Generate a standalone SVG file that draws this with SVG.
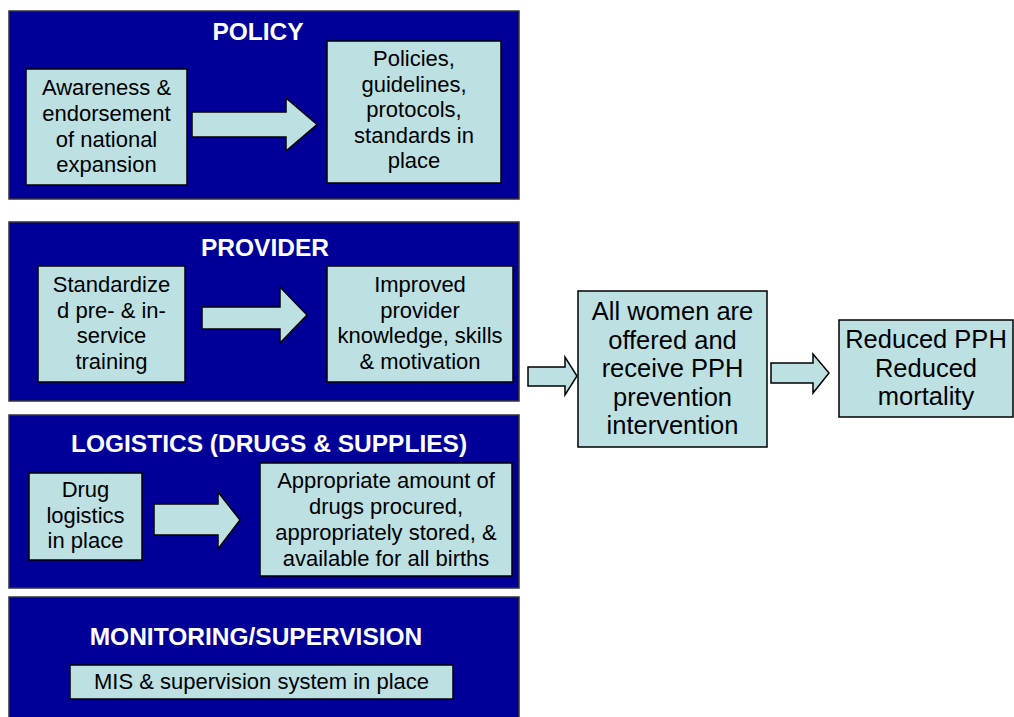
<svg xmlns="http://www.w3.org/2000/svg" width="1014" height="717" viewBox="0 0 1014 717">
<style>
.panel{fill:#000099;stroke:#333333;stroke-width:1.5}
.box{fill:#bde0e3;stroke:#000000;stroke-width:1.5}
.arrow{fill:#bde0e3;stroke:#000000;stroke-width:1.5;stroke-linejoin:miter}
.title{font-family:"Liberation Sans",Arial,sans-serif;font-weight:bold;font-size:24.5px;fill:#ffffff;text-anchor:middle}
.t{font-family:"Liberation Sans",Arial,sans-serif;font-size:22px;fill:#000000;text-anchor:middle}
.tl{font-family:"Liberation Sans",Arial,sans-serif;font-size:25.5px;fill:#000000;text-anchor:middle}
</style>
<rect width="1014" height="717" fill="#ffffff"/>
<g id="panel-policy">
<rect class="panel" x="9" y="11" width="510" height="188"/>
<text class="title" x="258" y="40">POLICY</text>
</g>
<g id="panel-provider">
<rect class="panel" x="9" y="222" width="510" height="179"/>
<text class="title" x="265" y="256">PROVIDER</text>
</g>
<g id="panel-logistics">
<rect class="panel" x="9" y="415" width="510" height="173"/>
<text class="title" x="269" y="452">LOGISTICS (DRUGS &amp; SUPPLIES)</text>
</g>
<g id="panel-monitoring">
<rect class="panel" x="9" y="597" width="510" height="125"/>
<text class="title" x="256" y="645">MONITORING/SUPERVISION</text>
</g>
<g id="connectors">
<polygon class="arrow" points="192,112 286,112 286,98 317,124.5 286,151 286,137 192,137"/>
<polygon class="arrow" points="202,307 280,307 280,287 307,315 280,343 280,329 202,329"/>
<polygon class="arrow" points="154,504 218,504 218,492 240,520 218,549 218,535 154,535"/>
<polygon class="arrow" points="528,367 565,367 565,357 577,376 565,395 565,386 528,386"/>
<polygon class="arrow" points="771,363 813,363 813,354 829,373 813,393 813,383 771,383"/>
</g>
<g id="node-awareness">
<rect class="box" x="26" y="69" width="161" height="116"/>
<text class="t" x="106.5" y="95">Awareness &amp;</text>
<text class="t" x="106.5" y="121">endorsement</text>
<text class="t" x="106.5" y="146.5">of national</text>
<text class="t" x="106.5" y="172">expansion</text>
</g>
<g id="node-policies">
<rect class="box" x="327" y="41" width="174" height="142"/>
<text class="t" x="414" y="66">Policies,</text>
<text class="t" x="414" y="92">guidelines,</text>
<text class="t" x="414" y="117">protocols,</text>
<text class="t" x="414" y="143">standards in</text>
<text class="t" x="414" y="168">place</text>
</g>
<g id="node-standardized">
<rect class="box" x="38" y="266" width="147" height="116"/>
<text class="t" x="111.5" y="292">Standardize</text>
<text class="t" x="111.5" y="318">d pre- &amp; in-</text>
<text class="t" x="111.5" y="343">service</text>
<text class="t" x="111.5" y="369">training</text>
</g>
<g id="node-improved">
<rect class="box" x="327" y="266" width="186" height="116"/>
<text class="t" x="420" y="292">Improved</text>
<text class="t" x="420" y="318">provider</text>
<text class="t" x="420" y="343">knowledge, skills</text>
<text class="t" x="420" y="369">&amp; motivation</text>
</g>
<g id="node-drug">
<rect class="box" x="29" y="473" width="113" height="87"/>
<text class="t" x="85.5" y="497">Drug</text>
<text class="t" x="85.5" y="523">logistics</text>
<text class="t" x="85.5" y="548">in place</text>
</g>
<g id="node-appropriate">
<rect class="box" x="260" y="463" width="252" height="113"/>
<text class="t" x="386" y="488">Appropriate amount of</text>
<text class="t" x="386" y="514">drugs procured,</text>
<text class="t" x="386" y="540">appropriately stored, &amp;</text>
<text class="t" x="386" y="566">available for all births</text>
</g>
<g id="node-mis">
<rect class="box" x="70" y="665" width="383" height="34"/>
<text class="t" x="261.5" y="689">MIS &amp; supervision system in place</text>
</g>
<g id="node-allwomen">
<rect class="box" x="578" y="291" width="189" height="156"/>
<text class="tl" x="672.5" y="320">All women are</text>
<text class="tl" x="672.5" y="348.5">offered and</text>
<text class="tl" x="672.5" y="377">receive PPH</text>
<text class="tl" x="672.5" y="405.5">prevention</text>
<text class="tl" x="672.5" y="434">intervention</text>
</g>
<g id="node-reduced">
<rect class="box" x="839" y="320" width="174" height="97"/>
<text class="tl" x="926" y="348">Reduced PPH</text>
<text class="tl" x="926" y="376.5">Reduced</text>
<text class="tl" x="926" y="405">mortality</text>
</g>
</svg>
